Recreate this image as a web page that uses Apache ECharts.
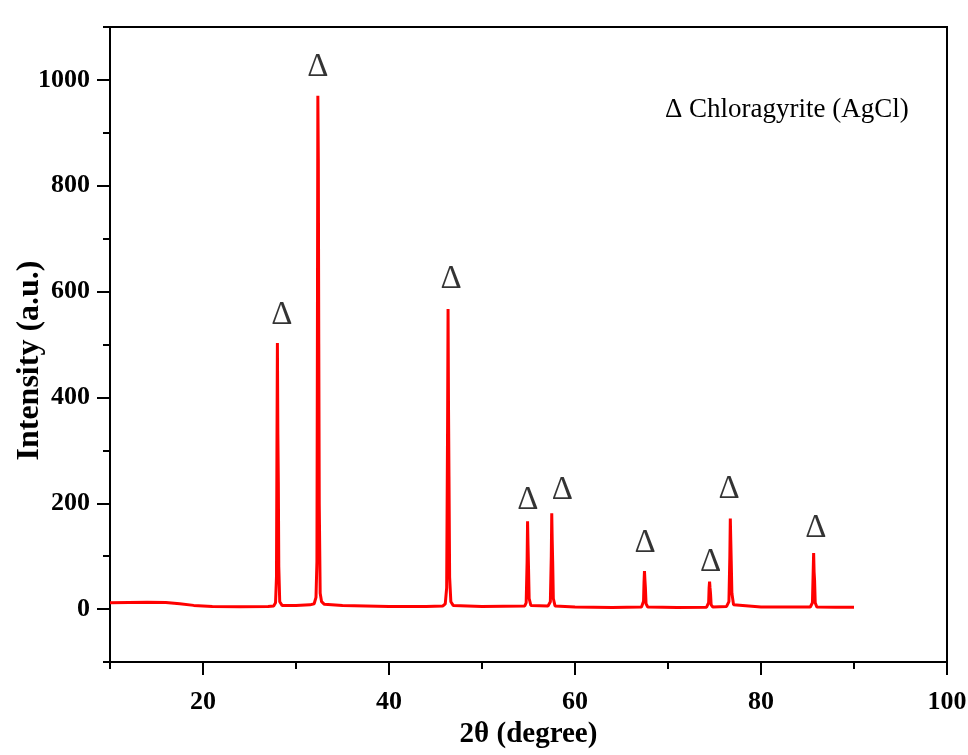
<!DOCTYPE html>
<html>
<head>
<meta charset="utf-8">
<script src="https://cdn.jsdelivr.net/npm/echarts@6/dist/echarts.min.js"></script>
<style>
  html, body { margin: 0; padding: 0; background: #fff; }
  #main { width: 968px; height: 755px; }
</style>
</head>
<body>
<div id="main"></div>
<script>
// XRD trace, [2theta, intensity]
const pattern = [
  [10, 12], [12, 12.5], [14, 13], [16, 12.5], [17.5, 10], [19, 7], [21, 5], [24, 4.5], [27, 5],
  [27.6, 6], [27.8, 12], [27.9, 60], [27.95, 300], [28.0, 503], [28.05, 330], [28.1, 240], [28.15, 80], [28.25, 14], [28.5, 7],
  [30, 7], [31.5, 8],
  [31.95, 10], [32.15, 22], [32.25, 90], [32.3, 500], [32.35, 970], [32.4, 850], [32.45, 500], [32.5, 200], [32.6, 30], [32.75, 14], [33.05, 9],
  [35, 7], [40, 5], [44, 5], [45.8, 6],
  [46.05, 10], [46.2, 40], [46.3, 350], [46.35, 567], [46.4, 380], [46.45, 250], [46.52, 60], [46.65, 14], [46.9, 7],
  [50, 5], [54.6, 6],
  [54.75, 12], [54.85, 90], [54.9, 166], [54.95, 120], [55.0, 80], [55.07, 20], [55.25, 7],
  [57.1, 6],
  [57.35, 14], [57.45, 100], [57.5, 181], [57.55, 130], [57.6, 90], [57.67, 20], [57.85, 6],
  [60, 4], [64, 3], [67.15, 4],
  [67.37, 15], [67.42, 50], [67.47, 72], [67.52, 55], [67.57, 40], [67.64, 10], [67.82, 4],
  [71, 3], [74.15, 3.5],
  [74.37, 12], [74.42, 40], [74.47, 52], [74.52, 40], [74.57, 30], [74.64, 8], [74.82, 4],
  [76.3, 5],
  [76.55, 14], [76.65, 100], [76.7, 171], [76.75, 130], [76.8, 90], [76.87, 30], [77.05, 8],
  [80, 4], [85.3, 4],
  [85.53, 12], [85.61, 70], [85.66, 106], [85.71, 70], [85.76, 55], [85.83, 12], [86.0, 4],
  [88, 3.5], [90, 3.5]
];

// positions of the peak markers
const markX = [28.48, 32.35, 46.67, 54.93, 58.63, 67.55, 74.57, 76.57, 85.9];
const markY = [556, 1024, 624, 205, 225, 124, 89, 226, 152];

const xMajor = [20, 40, 60, 80, 100];
const yMajor = [0, 200, 400, 600, 800, 1000];

const legendText = '\u0394 Chloragyrite (AgCl)';

const serif = 'Liberation Serif';
const black = '#000';

const chart = echarts.init(document.getElementById('main'));

const baseAxis = {
  type: 'value',
  axisLine: { show: true, onZero: false, lineStyle: { color: black, width: 2 } },
  splitLine: { show: false }
};

const option = {
  backgroundColor: '#fff',
  animation: false,
  grid: {
    left: 110, right: 21, top: 27, bottom: 93,
    outerBoundsMode: 'none', containLabel: false,
    show: true, borderColor: black, borderWidth: 2
  },
  graphic: [{
    type: 'text',
    left: 665, top: 96,
    style: { text: legendText, font: '27px "Liberation Serif"', fill: black }
  }],
  xAxis: [
    Object.assign({}, baseAxis, {
      min: 10, max: 100, interval: 10,
      axisTick: { length: 7, lineStyle: { width: 2, color: black } },
      axisLabel: { show: false }
    }),
    Object.assign({}, baseAxis, {
      min: 10, max: 100, position: 'bottom',
      axisTick: { customValues: xMajor, length: 13, lineStyle: { width: 2, color: black } },
      axisLabel: {
        customValues: xMajor, margin: 27, color: black,
        fontFamily: serif, fontSize: 26, fontWeight: 'bold',
        formatter: v => String(v)
      },
      name: '2\u03b8 (degree)', nameLocation: 'middle', nameGap: 58,
      nameMoveOverlap: false,
      nameTextStyle: { color: black, fontFamily: serif, fontSize: 29, fontWeight: 'bold' }
    })
  ],
  yAxis: [
    Object.assign({}, baseAxis, {
      min: -100, max: 1100, interval: 100,
      axisTick: { length: 7, lineStyle: { width: 2, color: black } },
      axisLabel: { show: false }
    }),
    Object.assign({}, baseAxis, {
      min: -100, max: 1100, position: 'left',
      axisTick: { customValues: yMajor, length: 13, lineStyle: { width: 2, color: black } },
      axisLabel: {
        customValues: yMajor, margin: 20, color: black,
        fontFamily: serif, fontSize: 26, fontWeight: 'bold',
        formatter: v => String(v)
      },
      name: 'Intensity (a.u.)', nameLocation: 'middle', nameGap: 64,
      nameMoveOverlap: false,
      nameTextStyle: {
        color: black, fontFamily: serif, fontSize: 32, fontWeight: 'bold',
        padding: [0, 32, 0, 0]
      }
    })
  ],
  series: [
    {
      type: 'line',
      data: pattern,
      xAxisIndex: 0, yAxisIndex: 0,
      showSymbol: false,
      smooth: false,
      lineStyle: { color: '#ff0000', width: 3 },
      silent: true
    },
    {
      type: 'scatter',
      data: markX.map((x, i) => [x, markY[i]]),
      xAxisIndex: 0, yAxisIndex: 0,
      symbolSize: 1,
      itemStyle: { color: 'rgba(0,0,0,0)' },
      label: {
        show: true, position: 'inside', formatter: '\u0394',
        color: black, fontFamily: serif, fontSize: 33
      },
      silent: true
    }
  ]
};

chart.setOption(option);
</script>
</body>
</html>
